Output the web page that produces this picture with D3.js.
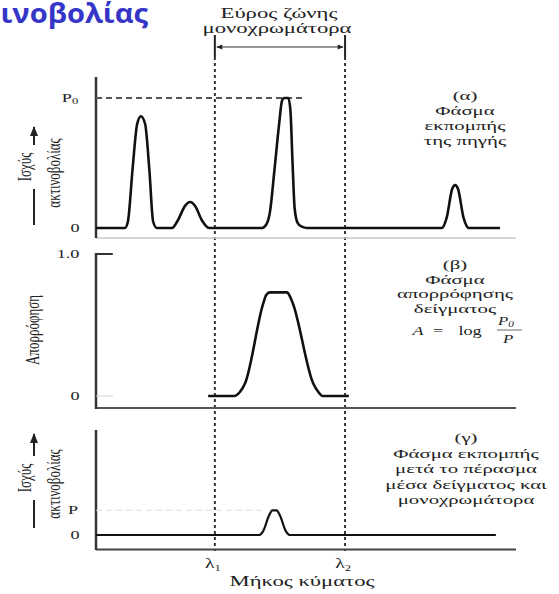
<!DOCTYPE html>
<html>
<head>
<meta charset="utf-8">
<script src="https://cdn.jsdelivr.net/npm/d3@7"></script>
<style>
  body { margin: 0; background: #fff; }
  text { font-family: "Liberation Serif", "DejaVu Serif", serif; fill: #222; }
</style>
</head>
<body>
<div id="viz"></div>
<script>
// wavelength in arbitrary units 0-100, powers relative to P0
var lambdaMarks = [28.3, 59.3];
var lambdaLabels = ['λ', 'λ'];
var lambdaSubs = ['1', '2'];

// (α) emission spectrum of the source
var sourceX = [0, 6.9, 7.6, 8.7, 9.8, 10.7, 11.7, 12.7, 13.6, 14.5,
  18.1, 19.5, 21.2, 22.4, 23.6, 25.2, 27,
  39.5, 40.6, 41.4, 42.5, 43.6, 44.3, 44.8, 45.8, 46.3, 46.8, 47.3, 48, 49, 50.3,
  82.3, 83.5, 84.8, 85.5, 86.2, 87.5, 88.8, 96.2];
var sourceP = [0, 0, 0.05, 0.45, 0.8, 0.86, 0.8, 0.45, 0.05, 0,
  0, 0.06, 0.17, 0.2, 0.17, 0.06, 0,
  0, 0.03, 0.12, 0.45, 0.8, 0.98, 1, 1, 0.9, 0.5, 0.15, 0.04, 0.01, 0,
  0, 0.08, 0.3, 0.33, 0.3, 0.08, 0, 0];

// (β) absorption spectrum of the sample
var absorbX = [26.7, 32.9, 34.3, 35.5, 39.8, 40.5, 41.4, 45.5, 46.2, 46.9, 51.7, 52.9, 54, 60.2];
var absorbA = [0, 0, 0.03, 0.09, 0.65, 0.71, 0.73, 0.73, 0.7, 0.65, 0.09, 0.03, 0, 0];

// (γ) emission after sample + monochromator
var transX = [0, 38.8, 39.8, 41.2, 42, 43, 43.8, 45.2, 46.2, 95.2];
var transP = [0, 0, 0.03, 0.15, 0.19, 0.19, 0.15, 0.03, 0, 0];
var transLevel = 0.19;

var notesA = ['(α)', 'Φάσμα', 'εκπομπής', 'της πηγής'];
var notesB = ['(β)', 'Φάσμα', 'απορρόφησης', 'δείγματος'];
var notesC = ['(γ)', 'Φάσμα εκπομπής', 'μετά το πέρασμα', 'μέσα δείγματος και', 'μονοχρωμάτορα'];

var width = 559, height = 594;

var svg = d3.select('#viz').append('svg')
  .attr('width', width)
  .attr('height', height);

var x = d3.scaleLinear().domain([0, 100]).range([96, 516]);
var yA = d3.scaleLinear().domain([0, 1]).range([228, 98]);
var yB = d3.scaleLinear().domain([0, 1]).range([396, 254]);
var yC = d3.scaleLinear().domain([0, 1]).range([535, 405]);

var defs = svg.append('defs');
defs.append('marker')
  .attr('id', 'head')
  .attr('viewBox', '0 0 10 10')
  .attr('refX', 9).attr('refY', 5)
  .attr('markerWidth', 7).attr('markerHeight', 5)
  .attr('orient', 'auto-start-reverse')
  .append('path').attr('d', 'M0,1L10,5L0,9Z').attr('fill', '#222');

// stretched text, like the scanned figure
function txt(s, cx, cy, size, sx, rot, anchor) {
  return svg.append('text')
    .attr('transform', 'translate(' + cx + ',' + cy + ') scale(' + sx + ',1) rotate(' + (rot || 0) + ')')
    .attr('text-anchor', anchor || 'middle')
    .attr('font-size', size)
    .text(s);
}

function curve(y) {
  return d3.line()
    .x(function(d) { return x(d[0]); })
    .y(function(d) { return y(d[1]); })
    .curve(d3.curveMonotoneX);
}

// title fragment (cut at the left edge in the original slide)
svg.append('text')
  .attr('transform', 'translate(148,23) scale(1.12,1)')
  .attr('text-anchor', 'end')
  .style('font-family', '"Open Sans", "Noto Sans", sans-serif')
  .style('font-weight', 'bold')
  .style('font-size', '26px')
  .style('fill', '#3535c8')
  .text('ινοβολίας');

// bandwidth marker
txt('Εύρος ζώνης', 279, 18, 14, 1.62);
txt('μονοχρωμάτορα', 277, 33, 14, 1.62);
lambdaMarks.forEach(function(l) {
  svg.append('line')
    .attr('x1', x(l)).attr('x2', x(l)).attr('y1', 35).attr('y2', 57)
    .attr('stroke', '#222').attr('stroke-width', 2);
  svg.append('line')
    .attr('x1', x(l)).attr('x2', x(l)).attr('y1', 57).attr('y2', 551)
    .attr('stroke', '#333').attr('stroke-width', 2)
    .attr('stroke-dasharray', '3,3');
});
svg.append('line')
  .attr('x1', x(lambdaMarks[0]) + 2).attr('x2', x(lambdaMarks[1]) - 2)
  .attr('y1', 47).attr('y2', 47)
  .attr('stroke', '#333').attr('stroke-width', 1.2)
  .attr('marker-start', 'url(#head)')
  .attr('marker-end', 'url(#head)');

// ---- panel α
svg.append('line').attr('x1', x(0)).attr('x2', x(100)).attr('y1', 238).attr('y2', 238)
  .attr('stroke', '#c8c8c8').attr('stroke-width', 1.5);
svg.append('line').attr('x1', x(0)).attr('x2', x(0)).attr('y1', 77).attr('y2', 238)
  .attr('stroke', '#333').attr('stroke-width', 2.5);
svg.append('line').attr('x1', x(0)).attr('x2', x(50)).attr('y1', yA(1)).attr('y2', yA(1))
  .attr('stroke', '#555').attr('stroke-width', 2).attr('stroke-dasharray', '6,4');
svg.append('path')
  .attr('d', curve(yA)(d3.zip(sourceX, sourceP)))
  .attr('fill', 'none').attr('stroke', '#111').attr('stroke-width', 2.6);
var p0 = txt('P', 70, yA(1) + 4, 13, 1.4, 0, 'middle');
p0.append('tspan').attr('font-size', 9).attr('dy', 2).text('0');
txt('0', 75, yA(0) + 4, 13, 1.4);

// ---- panel β
svg.append('line').attr('x1', x(0)).attr('x2', x(100)).attr('y1', 408).attr('y2', 408)
  .attr('stroke', '#555').attr('stroke-width', 2);
svg.append('line').attr('x1', x(0)).attr('x2', x(0)).attr('y1', 253).attr('y2', 409)
  .attr('stroke', '#333').attr('stroke-width', 2.5);
svg.append('line').attr('x1', x(0)).attr('x2', x(4)).attr('y1', yB(1)).attr('y2', yB(1))
  .attr('stroke', '#333').attr('stroke-width', 2);
svg.append('line').attr('x1', x(0)).attr('x2', x(4)).attr('y1', yB(0)).attr('y2', yB(0))
  .attr('stroke', '#d0d0d0').attr('stroke-width', 1);
svg.append('path')
  .attr('d', curve(yB)(d3.zip(absorbX, absorbA)))
  .attr('fill', 'none').attr('stroke', '#111').attr('stroke-width', 2.6);
txt('1.0', 68, yB(1) + 4, 13, 1.4);
txt('0', 75, yB(0) + 4, 13, 1.4);

// ---- panel γ
svg.append('line').attr('x1', x(0)).attr('x2', x(100)).attr('y1', 549.5).attr('y2', 549.5)
  .attr('stroke', '#444').attr('stroke-width', 2);
svg.append('line').attr('x1', x(0)).attr('x2', x(0)).attr('y1', 430).attr('y2', 550)
  .attr('stroke', '#333').attr('stroke-width', 2.5);
svg.append('line').attr('x1', x(0)).attr('x2', x(40)).attr('y1', yC(transLevel)).attr('y2', yC(transLevel))
  .attr('stroke', '#ddd').attr('stroke-width', 1).attr('stroke-dasharray', '6,4');
svg.append('path')
  .attr('d', curve(yC)(d3.zip(transX, transP)))
  .attr('fill', 'none').attr('stroke', '#111').attr('stroke-width', 2.2);
txt('P', 73, yC(transLevel) + 4, 13, 1.4);
txt('0', 75, yC(0) + 4, 13, 1.4);

// y axis titles
function powerTitle(top, bottom, mid) {
  svg.append('line').attr('x1', 34).attr('x2', 34).attr('y1', mid - 30).attr('y2', top + 4)
    .attr('stroke', '#222').attr('stroke-width', 2).attr('marker-end', 'url(#head)');
  svg.append('line').attr('x1', 34).attr('x2', 34).attr('y1', mid + 14).attr('y2', bottom)
    .attr('stroke', '#222').attr('stroke-width', 2);
  txt('Ισχύς', 31, mid - 8, 13, 1.4, -90);
  txt('ακτινοβολίας', 60, mid - 2, 13, 1.45, -90);
}
powerTitle(123, 225, 175);
powerTitle(430, 528, 486);
txt('Απορρόφηση', 39, 330, 13, 1.45, -90);

// notes on the right
function notes(lines, cx, y0, step) {
  lines.forEach(function(s, i) { txt(s, cx, y0 + i * step, 13, 1.6); });
}
notes(notesA, 465, 100, 15);
notes(notesB, 455, 269, 14.5);
notes(notesC, 466, 442, 15.5);

// A = log P0/P
txt('A', 418, 335, 13, 1.4).style('font-style', 'italic');
txt('=', 438, 335, 13, 1.4);
txt('log', 470, 335, 13, 1.4);
var num = txt('P', 506, 325, 12, 1.4).style('font-style', 'italic');
num.append('tspan').attr('font-size', 8).attr('dy', 2).text('0');
svg.append('line').attr('x1', 497).attr('x2', 522).attr('y1', 330).attr('y2', 330)
  .attr('stroke', '#444').attr('stroke-width', 0.8);
txt('P', 508, 343, 12, 1.4).style('font-style', 'italic');

// wavelength labels
lambdaMarks.forEach(function(l, i) {
  var t = txt(lambdaLabels[i], x(l) - 2, 568, 14, 1.4);
  t.append('tspan').attr('font-size', 9).attr('dy', 3).text(lambdaSubs[i]);
});
txt('Μήκος κύματος', 302, 586, 14, 1.62);
</script>
</body>
</html>
